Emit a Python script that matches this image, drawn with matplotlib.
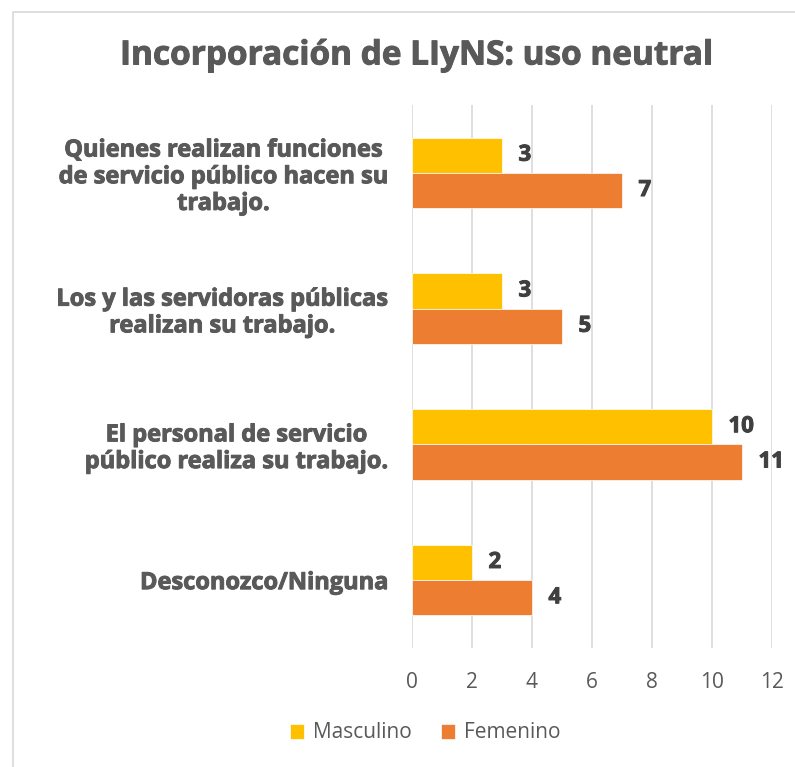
import numpy as np
import matplotlib.pyplot as plt
import matplotlib.patheffects as pe
from matplotlib.patches import Rectangle

categorias = ['Quienes realizan funciones\nde servicio público hacen su\ntrabajo.',
              'Los y las servidoras públicas\nrealizan su trabajo.',
              'El personal de servicio\npúblico realiza su trabajo.',
              'Desconozco/Ninguna']
masculino = [3, 3, 10, 2]
femenino = [7, 5, 11, 4]
series = ['Masculino', 'Femenino']
colores = ['#FFC000', '#ED7D31']

plt.rcParams['font.family'] = ['Open Sans', 'DejaVu Sans']

fig = plt.figure(figsize=(7.95, 7.67), dpi=100)
fig.patches.append(Rectangle((13/795, -0.1), 1.2, 1 - 12/767 + 0.1, transform=fig.transFigure,
                             fill=False, edgecolor='#D9D9D9', linewidth=1.2))

ax = fig.add_axes([412/795, 1 - 648/767, 360/795, 543/767])

y = np.arange(len(categorias))[::-1]
h = 0.26
b1 = ax.barh(y + h/2, masculino, height=h, color=colores[0], label=series[0],
             edgecolor='white', linewidth=0.5, zorder=3)
b2 = ax.barh(y - h/2, femenino, height=h, color=colores[1], label=series[1],
             edgecolor='white', linewidth=0.5, zorder=3)

# trazo fino para que el bold se parezca al extra-bold del original
grueso = lambda c: [pe.withStroke(linewidth=0.7, foreground=c)]

for bars, vals in [(b1, masculino), (b2, femenino)]:
    for bar, v in zip(bars, vals):
        ax.text(v + 0.55, bar.get_y() + bar.get_height()/2, str(v), ha='left', va='center',
                fontsize=16, fontweight='bold', color='#404040', path_effects=grueso('#404040'))

ax.set_xlim(0, 12)
ax.set_ylim(-0.5, 3.5)
ax.set_xticks(np.arange(0, 13, 2))
ax.set_yticks(y)
ax.set_yticklabels(categorias, fontsize=17, fontweight='bold', color='#595959',
                   ha='right', linespacing=1.15)
for lab in ax.get_yticklabels():
    lab.set_multialignment('center')
    lab.set_path_effects(grueso('#595959'))
ax.tick_params(axis='y', length=0, pad=17)
ax.tick_params(axis='x', length=0, pad=17, labelsize=15, labelcolor='#595959')
ax.grid(axis='x', color='#D9D9D9', linewidth=1.2, zorder=0)
for s in ax.spines.values():
    s.set_visible(False)

fig.text(417/795, 1 - 56/767, 'Incorporación de LIyNS: uso neutral', ha='center', va='center',
         fontsize=24, fontweight='bold', color='#595959', path_effects=grueso('#595959'))

fig.legend(loc='center', bbox_to_anchor=(425/795, 1 - 733/767), ncol=2, frameon=False,
           fontsize=15, labelcolor='#595959', handlelength=0.7, handleheight=0.7,
           handletextpad=0.4, columnspacing=1.4)

fig.savefig('out.png', dpi=100)
